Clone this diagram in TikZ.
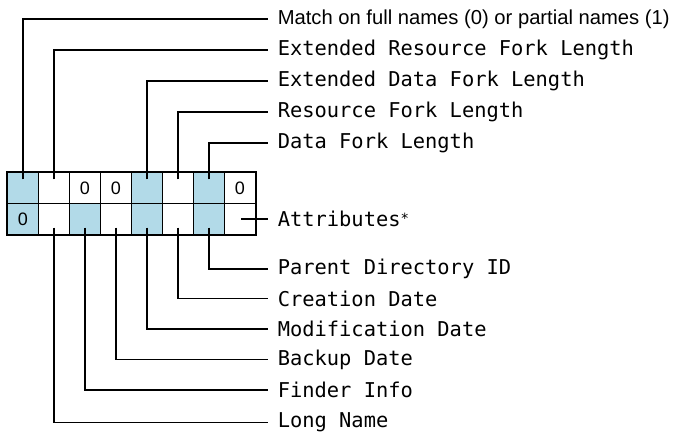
\documentclass[tikz,border=0pt]{standalone}
\usepackage{fontspec}
\newfontfamily\monof{DejaVu Sans Mono}
\newfontfamily\sansf{Liberation Sans}
\definecolor{cellblue}{RGB}{178,218,232}
\begin{document}
\begin{tikzpicture}[x=1pt,y=-1pt,line width=1.6pt,
  cell/.style={draw,line width=1.3pt,minimum width=31pt,minimum height=31pt,inner sep=0pt,
    font=\sansf\fontsize{18}{19}\selectfont},
  bluecell/.style={cell,fill=cellblue},
  lab/.style={anchor=west,inner xsep=9pt,inner ysep=0pt,
    font=\monof\fontsize{20.4}{22}\selectfont},
  sanslab/.style={lab,font=\sansf\fontsize{20.2}{22}\selectfont},
  lead/.style={line width=1.7pt}]
\useasboundingbox (0,0) rectangle (675,433);

% top row of the record
\node[bluecell] (t1) at (23,188) {};
\node[cell]     (t2) at (54,188) {};
\node[cell]     (t3) at (85,188) {0};
\node[cell]     (t4) at (116,188) {0};
\node[bluecell] (t5) at (147,188) {};
\node[cell]     (t6) at (178,188) {};
\node[bluecell] (t7) at (209,188) {};
\node[cell]     (t8) at (240,188) {0};
% bottom row of the record
\node[bluecell] (b1) at (23,219) {0};
\node[cell]     (b2) at (54,219) {};
\node[bluecell] (b3) at (85,219) {};
\node[cell]     (b4) at (116,219) {};
\node[bluecell] (b5) at (147,219) {};
\node[cell]     (b6) at (178,219) {};
\node[bluecell] (b7) at (209,219) {};
\node[cell]     (b8) at (240,219) {};
% heavier outline round the whole record
\draw[line width=2pt] (t1.north west) rectangle (b8.south east);

% field labels
\node[sanslab] (match) at (268,19)  {Match on full names (0) or partial names (1)};
\node[lab] (extres)  at (268,50)  {Extended Resource Fork Length};
\node[lab] (extdata) at (268,81)  {Extended Data Fork Length};
\node[lab] (res)     at (268,112) {Resource Fork Length};
\node[lab] (data)    at (268,143) {Data Fork Length};
\node[lab] (attr)    at (268,219) {Attributes\raisebox{0.25ex}{\fontsize{14}{14}\selectfont*}};
\node[lab] (parent)  at (268,269) {Parent Directory ID};
\node[lab] (create)  at (268,298.5) {Creation Date};
\node[lab] (modif)   at (268,329) {Modification Date};
\node[lab] (backup)  at (268,359.5) {Backup Date};
\node[lab] (finder)  at (268,390) {Finder Info};
\node[lab] (long)    at (268,422.5) {Long Name};

% leaders from the top row
\draw[lead] ([yshift=-7.5pt]t1.north) |- (match.west);
\draw[lead] ([yshift=-7.5pt]t2.north) |- (extres.west);
\draw[lead] ([yshift=-7.5pt]t5.north) |- (extdata.west);
\draw[lead] ([yshift=-7.5pt]t6.north) |- (res.west);
\draw[lead] ([yshift=-7.5pt]t7.north) |- (data.west);
% leader from the last cell
\draw[lead] ([xshift=-15pt]b8.east) -- (attr.west);
% leaders from the bottom row
\draw[lead] ([yshift=7.5pt]b7.south) |- (parent.west);
\draw[lead] ([yshift=7.5pt]b6.south) |- (create.west);
\draw[lead] ([yshift=7.5pt]b5.south) |- (modif.west);
\draw[lead] ([yshift=7.5pt]b4.south) |- (backup.west);
\draw[lead] ([yshift=7.5pt]b3.south) |- (finder.west);
\draw[lead] ([yshift=7.5pt]b2.south) |- (long.west);
\end{tikzpicture}
\end{document}
